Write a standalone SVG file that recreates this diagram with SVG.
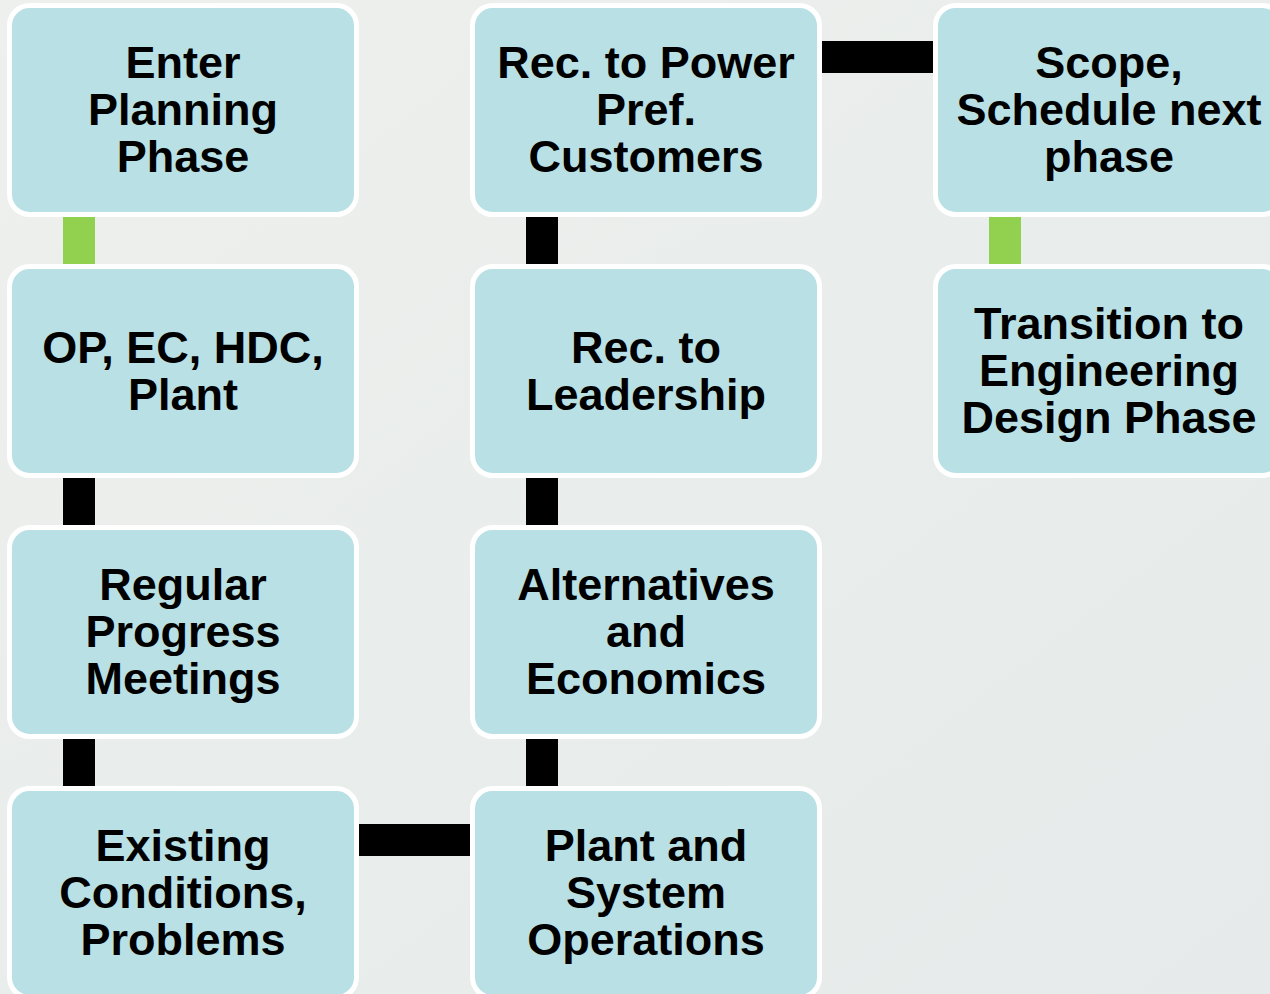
<svg xmlns="http://www.w3.org/2000/svg" width="1270" height="994" viewBox="0 0 1270 994">
<defs>
<linearGradient id="bg" x1="0" y1="0" x2="1" y2="1">
<stop offset="0" stop-color="#eef0ed"/>
<stop offset="0.5" stop-color="#e9edeb"/>
<stop offset="1" stop-color="#e6eaea"/>
</linearGradient>
</defs>
<style>
.box{fill:#b9e0e4;stroke:#ffffff;stroke-width:5}
.t{font-family:"Liberation Sans",Arial,sans-serif;font-weight:bold;font-size:45px;fill:#000;text-anchor:middle}
.k{fill:#000}
.g{fill:#92d050}
</style>
<rect x="0" y="0" width="1270" height="994" fill="url(#bg)"/>
<g id="connectors">
<rect class="g" x="63" y="217" width="32" height="47"/>
<rect class="k" x="63" y="478" width="32" height="47"/>
<rect class="k" x="63" y="739" width="32" height="47"/>
<rect class="k" x="359" y="824" width="111" height="32"/>
<rect class="k" x="526" y="739" width="32" height="47"/>
<rect class="k" x="526" y="478" width="32" height="47"/>
<rect class="k" x="526" y="217" width="32" height="47"/>
<rect class="k" x="822" y="41" width="111" height="32"/>
<rect class="g" x="989" y="217" width="32" height="47"/>
</g>
<g id="n1"><rect class="box" x="9.5" y="5.5" width="347" height="209" rx="20"/>
<text class="t"><tspan x="183" y="78">Enter</tspan><tspan x="183" y="125">Planning</tspan><tspan x="183" y="172">Phase</tspan></text></g>
<g id="n2"><rect class="box" x="9.5" y="266.5" width="347" height="209" rx="20"/>
<text class="t"><tspan x="183" y="362.5">OP, EC, HDC,</tspan><tspan x="183" y="409.5">Plant</tspan></text></g>
<g id="n3"><rect class="box" x="9.5" y="527.5" width="347" height="209" rx="20"/>
<text class="t"><tspan x="183" y="600">Regular</tspan><tspan x="183" y="647">Progress</tspan><tspan x="183" y="694">Meetings</tspan></text></g>
<g id="n4"><rect class="box" x="9.5" y="788.5" width="347" height="209" rx="20"/>
<text class="t"><tspan x="183" y="861">Existing</tspan><tspan x="183" y="908">Conditions,</tspan><tspan x="183" y="955">Problems</tspan></text></g>
<g id="n5"><rect class="box" x="472.5" y="788.5" width="347" height="209" rx="20"/>
<text class="t"><tspan x="646" y="861">Plant and</tspan><tspan x="646" y="908">System</tspan><tspan x="646" y="955">Operations</tspan></text></g>
<g id="n6"><rect class="box" x="472.5" y="527.5" width="347" height="209" rx="20"/>
<text class="t"><tspan x="646" y="600">Alternatives</tspan><tspan x="646" y="647">and</tspan><tspan x="646" y="694">Economics</tspan></text></g>
<g id="n7"><rect class="box" x="472.5" y="266.5" width="347" height="209" rx="20"/>
<text class="t"><tspan x="646" y="362.5">Rec. to</tspan><tspan x="646" y="409.5">Leadership</tspan></text></g>
<g id="n8"><rect class="box" x="472.5" y="5.5" width="347" height="209" rx="20"/>
<text class="t"><tspan x="646" y="78">Rec. to Power</tspan><tspan x="646" y="125">Pref.</tspan><tspan x="646" y="172">Customers</tspan></text></g>
<g id="n9"><rect class="box" x="935.5" y="5.5" width="347" height="209" rx="20"/>
<text class="t"><tspan x="1109" y="78">Scope,</tspan><tspan x="1109" y="125">Schedule next</tspan><tspan x="1109" y="172">phase</tspan></text></g>
<g id="n10"><rect class="box" x="935.5" y="266.5" width="347" height="209" rx="20"/>
<text class="t"><tspan x="1109" y="339">Transition to</tspan><tspan x="1109" y="386">Engineering</tspan><tspan x="1109" y="433">Design Phase</tspan></text></g>
</svg>
